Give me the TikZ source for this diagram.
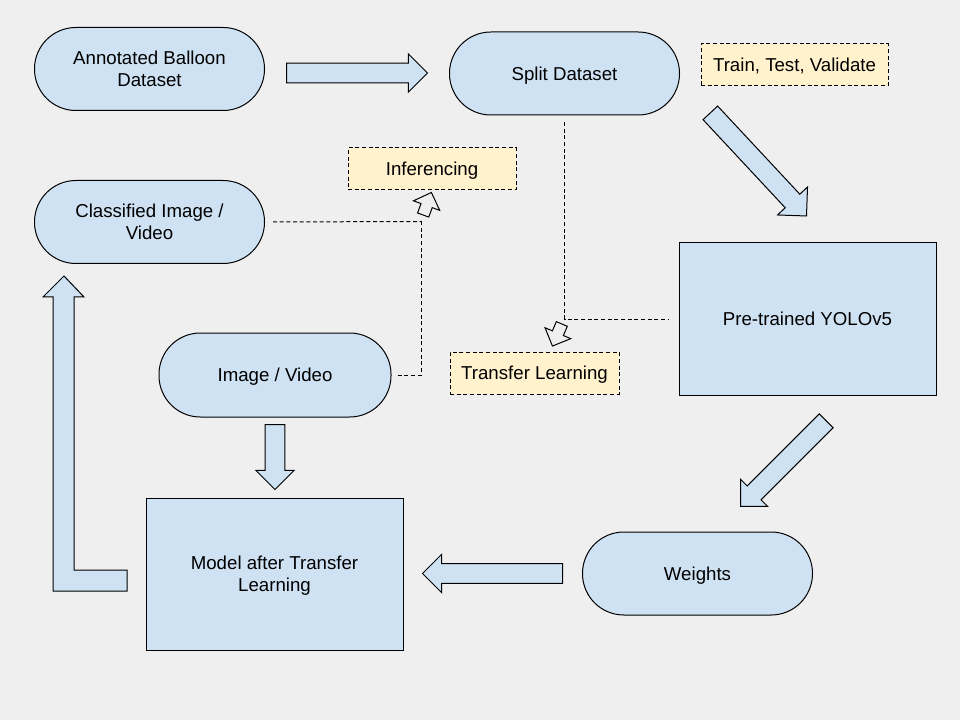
\documentclass[tikz,border=0pt]{standalone}
\usepackage{fontspec}
\setmainfont{Liberation Sans}
\usetikzlibrary{shapes.arrows}
\definecolor{bggray}{HTML}{EFEFEF}
\definecolor{boxblue}{HTML}{CFE2F3}
\definecolor{noteyellow}{HTML}{FFF2CC}

\begin{document}
\begin{tikzpicture}[x=0.75pt, y=-0.75pt, line width=0.75pt,
    font=\fontsize{14}{16.5}\selectfont,
    pill/.style={rectangle, draw, fill=boxblue, rounded corners=31pt, minimum width=172.5pt, minimum height=62.25pt, align=center, inner sep=0pt, text depth=0pt},
    block/.style={rectangle, draw, fill=boxblue, minimum width=192.75pt, minimum height=114pt, align=center, text depth=0pt},
    note/.style={rectangle, draw, dash pattern=on 3pt off 2pt, fill=noteyellow, minimum height=31.5pt, text depth=0pt},
    bigarrow/.style={single arrow, draw, fill=boxblue, anchor=tail, inner xsep=0pt, inner ysep=7pt, single arrow head extend=7pt, single arrow tip angle=90},
    openarrow/.style={single arrow, draw, fill=bggray, anchor=tail, minimum height=18pt, inner xsep=0pt, inner ysep=4.1pt, single arrow head extend=6pt, single arrow tip angle=90},
    link/.style={draw, dash pattern=on 3pt off 2pt}]
    \fill[bggray] (0,0) rectangle (960,720);

    % Main blocks
    \node [pill] (annot) at (149.5,69) {Annotated Balloon\\Dataset};
    \node [pill] (split) at (564.5,73.5) {Split Dataset};
    \node [pill] (classified) at (149.5,222) {Classified Image /\\Video};
    \node [block] (pretrained) at (807.5,319) {Pre-trained YOLOv5};
    \node [pill, minimum width=174pt, minimum height=63pt] (imgvid) at (275,375) {Image / Video};
    \node [block] (model) at (274.5,574) {Model after Transfer\\Learning};
    \node [pill] (weights) at (697.5,573.5) {Weights};

    % Notes
    \node [note, minimum width=140.25pt] (ttv) at (794.5,65) {Train, Test, Validate};
    \node [note, minimum width=126pt] (infer) at (432,169) {Inferencing};
    \node [note, minimum width=126.75pt] (transfer) at (534.5,373) {Transfer Learning};

    % Block arrows
    \node [bigarrow, minimum height=105.75pt] (annot2split) at (286,73) {};
    \node [bigarrow, minimum height=105.75pt, inner ysep=7.1pt, single arrow head extend=7.9pt, rotate=-47] (split2pre) at (710,112.5) {};
    \node [bigarrow, minimum height=90.75pt, rotate=-135] (pre2weights) at (826.5,420.5) {};
    \node [bigarrow, minimum height=105pt, rotate=180] (weights2model) at (563,573.5) {};
    \node [bigarrow, minimum height=48.75pt, rotate=-90] (img2model) at (275,424) {};
    \draw [fill=boxblue] (53,297) -- (43,297) -- (64,276) -- (84,297) -- (74,297) -- (74,570)
        -- (127,570) -- (127,591) -- (53,591) -- cycle;

    % Dashed links
    \coordinate (infjoin) at (421,221.5);
    \draw [link, shorten <=5pt, shorten >=7.5pt] (split.south) |- (pretrained.west);
    \draw [link, shorten <=6pt] (classified.east) -- (infjoin);
    \draw [link, shorten <=4.5pt] (imgvid.east) -| (infjoin);
    \node [openarrow, rotate=70] (infarrow) at (423,215.5) {};
    \node [openarrow, rotate=-113] (tlarrow) at (562,323.5) {};
\end{tikzpicture}
\end{document}
